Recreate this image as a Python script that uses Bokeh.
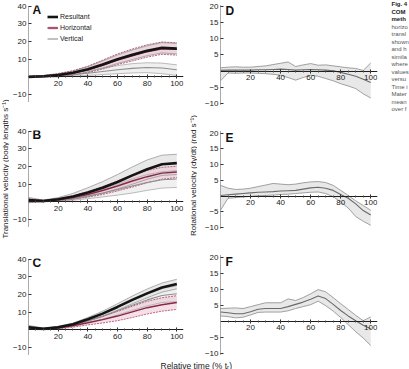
import math
from bokeh.plotting import figure
from bokeh.layouts import row, column
from bokeh.models import Range1d, LinearAxis, FixedTicker, Label, Legend, LegendItem
from bokeh.embed import file_html
from bokeh.resources import INLINE

FONT = "Liberation Sans"

# ---- relative time (% t_r) ----
t_coarse = [0, 10, 20, 30, 40, 50, 60, 70, 80, 90, 100]
t_fine = [0, 5, 10, 15, 20, 25, 30, 35, 40, 45, 50, 55, 60, 65, 70, 75, 80, 85, 90, 95, 100]

# ---- translational velocity (body lengths s^-1): mean and band edges ----
A_res = [0, 0.3, 1.0, 2.3, 4.3, 7.0, 10.0, 12.5, 14.8, 16.5, 16.0]
A_res_lo = [0, 0, 0.3, 1.3, 2.8, 5.0, 7.6, 9.8, 12.0, 13.6, 13.0]
A_res_hi = [0.2, 0.6, 1.7, 3.3, 5.8, 9.0, 12.4, 15.2, 17.6, 19.4, 19.0]
A_hor = [0, 0.3, 0.9, 2.1, 4.0, 6.6, 9.6, 12.0, 14.3, 16.0, 15.6]
A_hor_lo = [0, 0, 0.1, 1.0, 2.4, 4.4, 7.0, 9.0, 11.2, 12.8, 12.3]
A_hor_hi = [0.2, 0.7, 1.9, 3.5, 6.0, 9.5, 13.0, 15.8, 18.2, 19.8, 19.3]
A_ver = [0, 0.1, 0.5, 1.2, 2.0, 3.0, 4.0, 4.8, 5.3, 5.0, 4.0]
A_ver_lo = [0, -0.2, 0, 0.4, 0.8, 1.3, 1.8, 2.2, 2.4, 1.8, 0.8]
A_ver_hi = [0.3, 0.5, 1.2, 2.3, 3.5, 5.0, 6.4, 7.5, 8.0, 7.8, 6.8]

B_res = [1.0, 0.5, 1.5, 3.0, 5.3, 8.0, 11.3, 15.0, 18.5, 21.3, 22.0]
B_res_lo = [-0.5, 0, 0.6, 1.5, 3.0, 4.8, 7.3, 10.0, 12.8, 15.0, 15.5]
B_res_hi = [2.5, 1.0, 2.4, 4.8, 8.0, 11.5, 15.5, 19.8, 23.8, 26.5, 27.0]
B_hor = [0.8, 0.5, 1.2, 2.4, 4.2, 6.4, 9.0, 11.8, 14.3, 16.3, 17.0]
B_hor_lo = [-0.2, 0.1, 0.7, 1.5, 2.7, 4.2, 6.2, 8.4, 10.8, 12.8, 13.8]
B_hor_hi = [1.8, 0.9, 1.8, 3.4, 5.8, 8.7, 11.8, 15.2, 17.8, 19.6, 20.2]
B_ver = [0.6, 0.3, 0.9, 1.8, 3.3, 5.0, 7.0, 9.0, 11.0, 12.5, 13.0]
B_ver_lo = [0, 0, 0.4, 0.9, 1.8, 2.8, 3.8, 5.0, 6.5, 7.8, 8.2]
B_ver_hi = [1.4, 0.7, 1.4, 2.8, 4.8, 7.2, 10.0, 13.0, 15.5, 17.0, 17.8]

C_res = [1.5, 0.6, 1.5, 3.2, 6.0, 9.2, 13.0, 17.0, 20.7, 24.0, 26.0]
C_res_lo = [0.5, 0.2, 1.0, 2.6, 5.0, 7.8, 11.2, 14.8, 18.2, 21.4, 23.3]
C_res_hi = [2.5, 1.0, 2.0, 3.8, 7.0, 10.6, 14.8, 19.2, 23.2, 26.6, 28.7]
C_hor = [1.0, 0.4, 1.0, 2.3, 4.0, 5.8, 7.8, 10.2, 12.6, 14.2, 15.5]
C_hor_lo = [0.3, 0, 0.5, 1.5, 2.8, 3.9, 5.2, 7.0, 9.0, 10.6, 11.6]
C_hor_hi = [1.7, 0.8, 1.5, 3.1, 5.2, 7.7, 10.4, 13.4, 16.2, 18.2, 19.4]
C_ver = [1.2, 0.5, 1.3, 2.8, 5.0, 7.6, 10.8, 14.0, 17.0, 19.5, 20.5]
C_ver_lo = [0.5, 0.2, 0.9, 2.2, 4.0, 6.0, 8.4, 11.0, 13.6, 15.5, 16.0]
C_ver_hi = [1.9, 0.8, 1.7, 3.4, 6.0, 9.2, 13.2, 17.0, 20.4, 23.5, 25.0]

# ---- rotational velocity (rad s^-1): mean and band edges ----
D_rot = [0.2, 0.3, 0.3, 0.3, 0.3, 0.4, 0.4, 0.5, 0.6, 0.5, 0.3, 0.4, 0.5, 0.4, 0.3, 0.1, -0.4, -1.0, -1.6, -2.5, -3.5]
D_rot_lo = [-3.0, -0.6, -0.7, -0.6, -0.6, -0.7, -0.8, -1.0, -1.3, -2.0, -2.8, -2.0, -1.3, -1.6, -2.3, -3.0, -3.9, -4.6, -5.4, -7.0, -8.3]
D_rot_hi = [1.0, 1.2, 1.3, 1.2, 1.2, 1.4, 1.6, 2.0, 2.4, 2.8, 1.4, 1.9, 2.3, 1.8, 1.9, 1.6, 1.3, 1.0, 0.8, 0.2, 2.5]

E_rot = [0.2, 0.4, 0.6, 0.8, 1.0, 1.2, 1.3, 1.4, 1.6, 1.7, 1.8, 2.2, 2.6, 2.8, 2.5, 1.8, 0.5, -0.7, -2.5, -4.6, -6.0]
E_rot_lo = [-4.5, -0.7, -0.5, -0.3, -0.1, 0.1, 0.2, 0.3, 0.5, 0.6, 0.8, 1.0, 1.2, 1.3, 0.8, -0.2, -1.9, -3.8, -6.5, -8.0, -9.3]
E_rot_hi = [3.4, 2.5, 2.1, 2.2, 2.5, 3.0, 3.5, 4.0, 3.8, 3.6, 3.8, 4.2, 4.5, 4.6, 4.3, 3.4, 1.8, 0.2, -1.5, -3.0, -4.5]

F_rot = [2.9, 2.7, 2.4, 2.4, 3.0, 3.8, 4.0, 4.0, 4.0, 4.6, 5.3, 6.0, 6.9, 7.9, 7.1, 5.3, 3.4, 1.7, 0.2, -1.2, -2.3]
F_rot_lo = [1.7, 1.5, 1.1, 1.3, 2.0, 2.8, 2.9, 2.9, 2.9, 3.3, 4.0, 4.6, 5.2, 6.3, 4.9, 3.2, 1.2, -1.0, -3.2, -5.2, -7.5]
F_rot_hi = [4.0, 4.1, 4.2, 4.0, 4.6, 5.2, 5.8, 5.8, 5.8, 7.0, 6.5, 7.4, 8.6, 9.9, 9.2, 7.4, 5.5, 3.7, 1.9, 0.2, 1.4]

# ---- tick labels ----
x_ticks = [20, 40, 60, 80, 100]
trans_ticks = [-10, 10, 20, 30, 40]
rot_ticks = [-10, -5, 5, 10, 15, 20]
minus_labels = {-10: "\u221210", -5: "\u22125"}

caption_lines = ["Fig. 4", "COM", "meth", "horizo", "transl", "shown", "and h",
                 "simila", "where", "values", "versu", "Time i", "Mater", "mean", "over f"]

# series styling
RES = dict(band="#d6d6d6", band_alpha=0.55, edge="#9a9a9a", edge_dash="solid", line="#141414", width=2.6)
HOR = dict(band="#ecc6d3", band_alpha=0.55, edge="#a3466a", edge_dash="2 1", line="#8a2848", width=1.5)
VER = dict(band="#e2e2e2", band_alpha=0.5, edge="#ababab", edge_dash="solid", line="#8e8e8e", width=1.1)
ROT = dict(band="#e6e6e6", band_alpha=0.9, edge="#8a8a8a", edge_dash="solid", line="#6a6a6a", width=1.1)

X_MAX = 104.5
GRID_H = 358  # height of the panel block above the time title


def blank_strip(width, height):
    s = figure(width=width, height=height, x_range=Range1d(0, width), y_range=Range1d(0, height),
               x_axis_location=None, y_axis_location=None, output_backend="svg",
               toolbar_location=None, min_border=0)
    s.grid.visible = False
    s.outline_line_color = None
    return s


def base_panel(width, height, y_range, yticks, left, right, top, bottom, yminor):
    p = figure(width=width, height=height, x_range=Range1d(0, X_MAX), y_range=Range1d(*y_range),
               x_axis_location=None, y_axis_location=None,
               output_backend="svg", toolbar_location=None,
               min_border_left=left, min_border_right=right,
               min_border_top=top, min_border_bottom=bottom)
    p.grid.visible = False
    p.outline_line_color = None
    p.background_fill_color = "white"
    p.border_fill_color = "white"

    yax = LinearAxis(ticker=FixedTicker(ticks=yticks, minor_ticks=yminor),
                     major_label_overrides=minus_labels,
                     axis_line_color="#555555", axis_line_dash="1 1", axis_line_width=1,
                     major_tick_in=3, major_tick_out=0, minor_tick_in=0, minor_tick_out=0,
                     major_tick_line_color="#333333",
                     major_label_text_font=FONT, major_label_text_font_size="8px",
                     major_label_text_color="#222222", major_label_standoff=2)
    p.add_layout(yax, "left")

    xax = LinearAxis(fixed_location=0,
                     ticker=FixedTicker(ticks=x_ticks, minor_ticks=list(range(5, 101, 5))),
                     axis_line_color="#1e1e1e", axis_line_width=1,
                     major_tick_in=2, major_tick_out=2, minor_tick_in=1, minor_tick_out=1,
                     major_tick_line_color="#1e1e1e", minor_tick_line_color="#444444",
                     major_label_text_font=FONT, major_label_text_font_size="8px",
                     major_label_text_color="#222222", major_label_standoff=2)
    p.add_layout(xax, "below")
    return p


def draw_series(p, x, mean, lo, hi, st, part):
    if part == "band":
        return p.varea(x=x, y1=lo, y2=hi, fill_color=st["band"], fill_alpha=st["band_alpha"])
    if part == "edges":
        for edge in (lo, hi):
            p.line(x=x, y=edge, line_color=st["edge"], line_width=0.8, line_dash=st["edge_dash"])
        return None
    return p.line(x=x, y=mean, line_color=st["line"], line_width=st["width"])


def panel_letter(p, text, x, y):
    p.add_layout(Label(x=x, y=y, text=text, text_font=FONT, text_font_style="bold",
                       text_font_size="12px", text_color="#111111", text_baseline="alphabetic"))


def trans_panel(letter, height, top, bottom, series):
    p = base_panel(176, height, (-14, 40.5), trans_ticks, 17, 2, top, bottom,
                   list(range(-10, 41, 2)))
    (res, res_lo, res_hi), (hor, hor_lo, hor_hi), (ver, ver_lo, ver_hi) = series
    r = {}
    r["res_band"] = draw_series(p, t_coarse, res, res_lo, res_hi, RES, "band")
    r["ver_band"] = draw_series(p, t_coarse, ver, ver_lo, ver_hi, VER, "band")
    r["hor_band"] = draw_series(p, t_coarse, hor, hor_lo, hor_hi, HOR, "band")
    draw_series(p, t_coarse, ver, ver_lo, ver_hi, VER, "edges")
    draw_series(p, t_coarse, res, res_lo, res_hi, RES, "edges")
    draw_series(p, t_coarse, hor, hor_lo, hor_hi, HOR, "edges")
    r["ver"] = draw_series(p, t_coarse, ver, ver_lo, ver_hi, VER, "mean")
    r["hor"] = draw_series(p, t_coarse, hor, hor_lo, hor_hi, HOR, "mean")
    r["res"] = draw_series(p, t_coarse, res, res_lo, res_hi, RES, "mean")
    panel_letter(p, letter, 2.7, 37.8)
    return p, r


def rot_panel(letter, height, top, bottom, mean, lo, hi):
    p = base_panel(191, height, (-10.3, 20.5), rot_ticks, 23, 11, top, bottom,
                   list(range(-10, 21, 1)))
    draw_series(p, t_fine, mean, lo, hi, ROT, "band")
    draw_series(p, t_fine, mean, lo, hi, ROT, "edges")
    draw_series(p, t_fine, mean, lo, hi, ROT, "mean")
    panel_letter(p, letter, 3.3, 18.5)
    return p


pA, rA = trans_panel("A", 126, 5, 25, [(A_res, A_res_lo, A_res_hi), (A_hor, A_hor_lo, A_hor_hi), (A_ver, A_ver_lo, A_ver_hi)])
pB, rB = trans_panel("B", 127, 4, 27, [(B_res, B_res_lo, B_res_hi), (B_hor, B_hor_lo, B_hor_hi), (B_ver, B_ver_lo, B_ver_hi)])
pC, rC = trans_panel("C", 105, 5, 4, [(C_res, C_res_lo, C_res_hi), (C_hor, C_hor_lo, C_hor_hi), (C_ver, C_ver_lo, C_ver_hi)])

pD = rot_panel("D", 126, 4, 22, D_rot, D_rot_lo, D_rot_hi)
pE = rot_panel("E", 127, 5, 25, E_rot, E_rot_lo, E_rot_hi)
pF = rot_panel("F", 105, 2, 4, F_rot, F_rot_lo, F_rot_hi)

# legend in panel A
legend = Legend(items=[
    LegendItem(label="Resultant", renderers=[rA["res"]]),
    LegendItem(label="Horizontal", renderers=[rA["hor_band"], rA["hor"]]),
    LegendItem(label="Vertical", renderers=[rA["ver"]]),
], location=(19, 57), orientation="vertical",
    glyph_width=11, glyph_height=5, label_height=11, label_standoff=2, spacing=0,
    padding=0, margin=0, border_line_color=None, background_fill_alpha=0,
    label_text_font=FONT, label_text_font_size="7px", label_text_color="#222222")
pA.add_layout(legend)

# rotated axis titles in narrow strips beside each column
ylab_left = blank_strip(9, GRID_H)
ylab_left.add_layout(Label(x=4.5, y=GRID_H - 168.5, text="Translational velocity (body lengths s\u207b\u00b9)",
                           angle=math.pi / 2, text_align="center", text_baseline="middle",
                           text_font=FONT, text_font_size="8px", text_color="#222222"))
ylab_right = blank_strip(12, GRID_H)
ylab_right.add_layout(Label(x=7.5, y=GRID_H - 175, text="Rotational velocity (d\u03b3/dt) (rad s\u207b\u00b9)",
                            angle=math.pi / 2, text_align="center", text_baseline="middle",
                            text_font=FONT, text_font_size="8px", text_color="#222222"))

# caption strip on the right
cap = blank_strip(21, GRID_H)
for i, line in enumerate(caption_lines):
    cap.add_layout(Label(x=3, y=GRID_H - (3.5 + 7.5 * i), text=line, text_font=FONT,
                         text_font_size="6px",
                         text_font_style="bold" if i < 3 else "normal",
                         text_color="#222222" if i < 3 else "#555555",
                         text_baseline="middle"))

# x axis title along the bottom: "Relative time (% t_r)"
foot = blank_strip(409, 11)
foot.add_layout(Label(x=160, y=5, text="Relative time (% t", text_align="left",
                      text_baseline="middle", text_font=FONT, text_font_size="8.5px",
                      text_color="#222222"))
foot.add_layout(Label(x=226.6, y=3.6, text="r", text_align="left",
                      text_baseline="middle", text_font=FONT, text_font_size="6px",
                      text_color="#222222"))
foot.add_layout(Label(x=228.8, y=5, text=")", text_align="left",
                      text_baseline="middle", text_font=FONT, text_font_size="8.5px",
                      text_color="#222222"))

layout = column(row(ylab_left, column(pA, pB, pC), ylab_right, column(pD, pE, pF), cap), foot)

open("out.html", "w").write(file_html(layout, INLINE))
